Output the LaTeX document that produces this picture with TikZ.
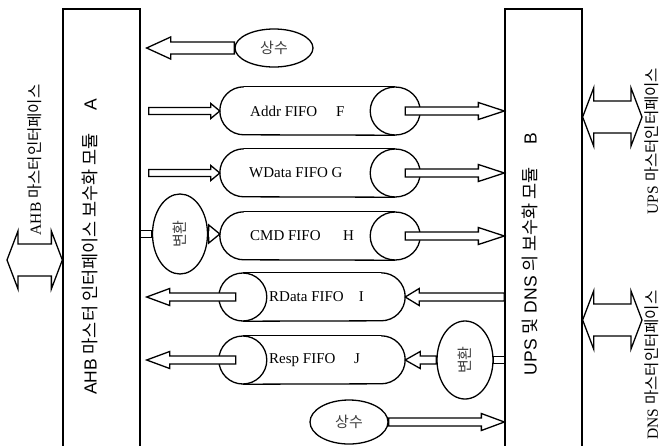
\documentclass[tikz,border=0pt]{standalone}
\usepackage{graphicx}
\usepackage{fontspec}
\setmainfont{Liberation Serif}
\setsansfont{Liberation Sans}
\newfontfamily\kr{Noto Sans CJK KR}
\usetikzlibrary{shapes.geometric,calc}

\tikzset{
  line/.style={draw, line width=1.3pt},
  mod/.style={line, minimum width=77pt, minimum height=440pt, inner sep=0pt},
  modtext/.style={rotate=90, inner sep=0pt, font=\fontsize{17.5}{20}\selectfont\sffamily},
  side/.style={rotate=90, inner sep=0pt, font=\fontsize{15.5}{18}\selectfont},
  fifo/.style={minimum width=200pt, minimum height=48pt, inner sep=0pt},
  fifoflip/.style={minimum width=186pt, minimum height=48pt, inner sep=0pt},
  fifotext/.style={anchor=west, inner sep=0pt},
  oval/.style={ellipse, line, fill=white, inner sep=0pt, text=black!75},
  fat/.style={line, fill=white, line join=miter},
  arrshaft/.store in=\arrshaft, arrhead/.store in=\arrhead, arrlen/.store in=\arrlen,
  arrshaft=4pt, arrhead=8.5pt, arrlen=24pt
}

% hollow arrow, horizontal, at the height of the first point
\newcommand{\fatarrow}[3][]{%
  \path[fat,#1] let \p1=(#2), \p2=(#3), \n1={\x2>\x1 ? 1 : -1} in
    (\x1,{\y1+\arrshaft}) -- ({\x2-(\n1)*\arrlen},{\y1+\arrshaft})
    -- ({\x2-(\n1)*\arrlen},{\y1+\arrhead}) -- (\x2,\y1)
    -- ({\x2-(\n1)*\arrlen},{\y1-\arrhead}) -- ({\x2-(\n1)*\arrlen},{\y1-\arrshaft})
    -- (\x1,{\y1-\arrshaft}) -- cycle;}
% strip without head
\newcommand{\fatbar}[2]{%
  \path[fat] let \p1=(#1), \p2=(#2) in
    (\x1,{\y1+3.5pt}) rectangle (\x2,{\y1-3.5pt});}
% double headed interface arrow
\newcommand{\dblarrow}[2]{%
  \path[fat] let \p1=(#1), \p2=(#2) in
    (\x1,\y1) -- ({\x1+11pt},{\y1+29pt}) -- ({\x1+11pt},{\y1+16pt})
    -- ({\x2-11pt},{\y1+16pt}) -- ({\x2-11pt},{\y1+29pt}) -- (\x2,\y1)
    -- ({\x2-11pt},{\y1-29pt}) -- ({\x2-11pt},{\y1-16pt})
    -- ({\x1+11pt},{\y1-16pt}) -- ({\x1+11pt},{\y1-29pt}) -- cycle;}
% FIFO outline, end face on the right
\newcommand{\fifoface}[1]{%
  \draw[line] ($(#1.north west)+(24,0)$) arc[start angle=90, end angle=270, radius=24pt]
    -- ($(#1.south east)+(-25,0)$);
  \draw[line] ($(#1.north west)+(24,0)$) -- ($(#1.north east)+(-25,0)$);
  \draw[line] ($(#1.east)+(-25,0)$) ellipse[x radius=25pt, y radius=24pt];}
% FIFO outline, end face on the left
\newcommand{\fifofaceflip}[1]{%
  \draw[line] ($(#1.north east)+(-24,0)$) arc[start angle=90, end angle=-90, radius=24pt]
    -- ($(#1.south west)+(24,0)$);
  \draw[line] ($(#1.north east)+(-24,0)$) -- ($(#1.north west)+(24,0)$);
  \draw[line] ($(#1.west)+(24,0)$) ellipse[x radius=24pt, y radius=24pt];}

\begin{document}
\begin{tikzpicture}[x=1pt, y=-1pt, font=\fontsize{15}{18}\selectfont]
\useasboundingbox (0,0) rectangle (661,445);

% modules
\node[mod] (A) at (101.5,229) {};
\node[mod] (B) at (543.5,229) {};
\node[modtext] (Atxt) at (90,247) {AHB\ {\kr 마스터\ 인터페이스\ 보수화\ 모듈}\quad\ A};
\node[modtext] (Btxt) at (530,254) {UPS\ {\kr 및}\ DNS\ {\kr 의\ 보수화\ 모듈}\quad\ B};

% interface labels
\node[side] (ahbtxt) at (35,160) {AHB {\kr 마스터인터페이스}};
\node[side] (upstxt) at (652,141) {UPS {\kr 마스터인터페이스}};
\node[side] (dnstxt) at (652,365) {DNS {\kr 마스터인터페이스}};

\coordinate (ahb) at (7,260);
\coordinate (ups) at (642,117);
\coordinate (dns) at (642,320);

% FIFOs
\node[fifo] (addr) at (320,111) {};
\node[fifo] (wdata) at (320,173) {};
\node[fifo] (cmd) at (320,236) {};
\node[fifoflip] (rdata) at (312,297) {};
\node[fifoflip] (resp) at (312,360) {};
\fifoface{addr}
\fifoface{wdata}
\fifoface{cmd}
\fifofaceflip{rdata}
\fifofaceflip{resp}

\node[fifotext] (addrtxt) at (250,111) {Addr FIFO\quad\ F};
\node[fifotext] (wdatatxt) at (249,173) {WData FIFO G};
\node[fifotext] (cmdtxt) at (250,236) {CMD FIFO\quad\ \ H};
\node[fifotext] (rdatatxt) at (269,297) {RData FIFO\quad I};
\node[fifotext] (resptxt) at (269,360) {Resp FIFO\quad\ J};

% constants and converters
\node[oval, minimum width=78pt, minimum height=38pt] (c1) at (274,48) {\kr 상수};
\node[oval, minimum width=78pt, minimum height=44pt] (c2) at (349,422) {\kr 상수};
\node[oval, minimum width=55pt, minimum height=80pt] (conv1) at (180,234) {\rotatebox{90}{\kr 변환}};
\node[oval, minimum width=56pt, minimum height=78pt] (conv2) at (465,360) {\rotatebox{90}{\kr 변환}};

% interface arrows
\dblarrow{ahb}{ahb -| A.west}
\dblarrow{ups -| B.east}{ups}
\dblarrow{dns -| B.east}{dns}

% arrows towards B
\fatarrow[arrshaft=6pt, arrhead=11pt]{c1.west}{$(c1.west -| A.east)+(6,0)$}
\fatarrow[arrshaft=3.5pt, arrhead=7.5pt, arrlen=9pt]{$(addr.west -| A.east)+(8,0)$}{addr.west}
\fatarrow[arrshaft=3.5pt, arrhead=7.5pt, arrlen=9pt]{$(wdata.west -| A.east)+(8,0)$}{wdata.west}
\fatbar{conv1.west -| A.east}{conv1.west}
\fatarrow[arrshaft=3.5pt, arrhead=9pt, arrlen=11pt]{conv1.east}{cmd.west}
\fatarrow[arrlen=26pt]{$(addr.east)+(-15,0)$}{addr.east -| B.west}
\fatarrow[arrlen=26pt]{$(wdata.east)+(-15,0)$}{wdata.east -| B.west}
\fatarrow[arrlen=26pt]{$(cmd.east)+(-15,0)$}{cmd.east -| B.west}

% arrows towards A
\fatarrow[arrlen=14pt]{rdata.east -| B.west}{rdata.east}
\fatarrow[arrlen=23pt]{$(rdata.west)+(17,0)$}{$(rdata.west -| A.east)+(6,0)$}
\fatbar{conv2.east}{conv2.east -| B.west}
\fatarrow[arrlen=15pt]{conv2.west}{resp.east}
\fatarrow[arrlen=23pt]{$(resp.west)+(17,0)$}{$(resp.west -| A.east)+(6,0)$}
\fatarrow[arrlen=23pt]{c2.east}{c2.east -| B.west}

\end{tikzpicture}
\end{document}
